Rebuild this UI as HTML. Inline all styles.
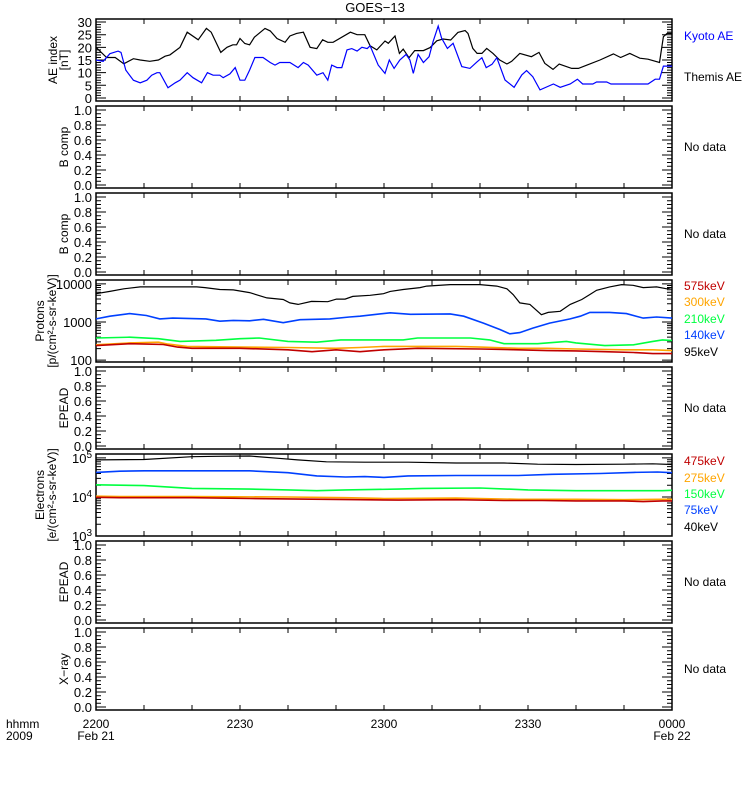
<!DOCTYPE html>
<html><head><meta charset="utf-8"><style>
html,body{margin:0;padding:0;background:#fff;}
svg{display:block;font-family:"Liberation Sans",sans-serif;}
</style></head><body>
<svg id="chart" width="750" height="800" viewBox="0 0 750 800" xmlns="http://www.w3.org/2000/svg">
<text x="375" y="12" text-anchor="middle" font-size="13">GOES−13</text>
</svg>
<script>
// ---- data (time in minutes since 2200) ----
const xTickLabels = ["2200","2230","2300","2330","0000"];
const xDateLabels = ["Feb 21","","","","Feb 22"];
const aeThemisT = [0,2.2,4,5.8,7.8,9.2,11.2,13,14.4,15.4,17.5,19,21.3,23,24,26,27.3,28.5,29.3,30,31,32,33,35.2,36.3,37.7,39.4,40.4,41.8,43.2,44.6,46,47.2,48.3,49.4,53,54.4,56,57.1,58.5,60.2,60.9,62.3,63.2,64,65.2,66.4,68.2,69.6,71,72.3,73.9,75.4,76.9,77.5,78.5,79.4,80.4,81.4,82.7,84.1,85.6,86.6,88.3,90.7,92.3,93.5,95.2,96.5,99.1,100.5,102.3,105,107.8,109.3,111.2,113.3,115,117.4,118.2,119,120];
const aeThemisV = [20,16,16,13.5,15.5,15,14.5,15,16.5,17,20,26,23,27.5,26,18,20,21,21,23.5,21.5,21,24,27.5,26.5,23.5,22,24.5,25.5,26,20,19.5,23,22,22,26,25,25,20.6,19,22.5,21.6,24.5,17.6,19.3,15.9,18.7,18.7,19.9,22.6,23.3,22.9,25.9,26.6,25.5,19.6,17.6,17.6,19.6,17.6,15,13.4,14.5,17.6,16.3,18,13.7,11.3,13.4,11.7,11.7,13,15,17.4,16,17.6,15.7,15.3,14,24.2,25.5,25.5];
const aeKyotoT = [0,1.5,2.9,4.6,5.2,6.2,7.8,9.2,10.6,11.6,12.7,13.3,15,16.5,17.5,19,20.2,22,23.2,24.4,25.8,26.5,27.9,29,30,31,32,33.1,34.8,36.3,37.3,38.3,40.4,42.1,43.2,44.2,46,47.3,48.3,49.1,50.2,51.2,52.3,53.3,54.4,55.4,56.5,57.1,58.8,60.2,61.1,62.1,63.3,64.6,65.4,66.1,67.1,68.2,69.4,70.2,71.3,72,73.2,74.4,76.2,77.9,79.4,80.4,81.3,82.5,83.5,85.2,87.1,88.7,89.7,91,92.5,95.3,96.7,98.8,100.3,101.4,103.5,104.3,106.4,107.3,115,116.5,117.4,118.2,120];
const aeKyotoV = [15,14.5,17.5,18.5,18,11,7,6,7,9,10,10,4,6,7,10,8,6,10,9,9,8,9.5,12,7,7,11,16,16,14,13,14,14,12,14,13,9,10,7,13,12,12,19,19.5,18.5,20,19.5,20.6,13,9.7,15,11.7,15,17.2,15,9.7,17.2,14,16.3,22.2,28.4,23.6,19.6,21.6,12.4,11.7,14.3,15.9,12,13.3,15.9,7.1,4.2,9.1,10.8,8.4,3.2,5.5,4.2,5.5,7.4,5.5,5.5,6.3,6.3,5.5,5.5,7.4,7.4,12.6,12.6];
// protons (log10 flux)
const pBlackT = [0,2.9,5.8,9.2,21,22.7,25.8,28.6,32,35.6,39,40.4,42.1,44.9,48.3,50.1,51.9,53.5,57.1,59.9,61.3,64,67.5,68.9,73.8,80,83.5,85.6,86.9,88.3,90.4,92.8,94.2,96.7,98.8,101.2,102.9,104.3,107,109.5,111.9,114,116.8,118.9,120];
const pBlackV = [3.74,3.8,3.87,3.92,3.92,3.9,3.85,3.84,3.77,3.63,3.59,3.5,3.46,3.54,3.53,3.6,3.6,3.67,3.7,3.74,3.8,3.85,3.9,3.94,3.98,3.98,3.94,3.87,3.72,3.5,3.46,3.19,3.25,3.28,3.46,3.59,3.72,3.83,3.92,3.98,3.96,3.9,3.92,3.87,3.9];
const pBlueT = [0,2.9,7,10.5,13.3,16,22.9,25.8,28.6,32,34.9,39,42.5,48.7,52.8,55,61.3,65.5,73.8,76.6,80.7,84.2,86.2,88.3,91,94.5,98.8,100.9,102.9,107,110.5,114,116.8,120];
const pBlueV = [3.08,3.15,3.22,3.17,3.08,3.1,3.08,3.02,3.04,3.03,3.07,2.98,3.06,3.08,3.13,3.15,3.24,3.2,3.21,3.15,2.97,2.8,2.69,2.72,2.84,2.97,3.08,3.15,3.25,3.25,3.22,3.1,3.13,3.1];
const pGreenT = [0,7,13,17.5,25,30,34,40,46,51,64,67,78,82,85,92,98,100,106,112,116,118,120];
const pGreenV = [2.58,2.6,2.56,2.49,2.52,2.56,2.58,2.49,2.47,2.53,2.53,2.58,2.58,2.53,2.43,2.43,2.49,2.45,2.38,2.4,2.49,2.53,2.51];
const pOrangeT = [0,7,13,15,19,30,40,50,55,60,75,80,88,94,100,110,116,120];
const pOrangeV = [2.40,2.45,2.47,2.42,2.36,2.34,2.33,2.31,2.33,2.36,2.36,2.34,2.31,2.31,2.29,2.27,2.27,2.25];
const pRedT = [0,7,14,17,20,30,40,45,50,55,60,67,80,88,94,100,106,112,116,120];
const pRedV = [2.38,2.43,2.41,2.34,2.31,2.31,2.27,2.22,2.27,2.22,2.27,2.31,2.29,2.27,2.25,2.24,2.22,2.2,2.17,2.17];
// electrons (log10 flux)
const eBlackT = [0,10,20,25,32,38,42,48,56,65,75,85,92,100,110,116,120];
const eBlackV = [4.95,4.96,5.03,5.04,5.05,4.99,4.95,4.9,4.89,4.89,4.87,4.87,4.84,4.83,4.84,4.85,4.83];
const eBlueT = [0,5,10,25,32,40,46,52,56,60,65,75,88,95,105,112,117,120];
const eBlueV = [4.63,4.66,4.67,4.67,4.67,4.62,4.54,4.51,4.52,4.5,4.54,4.55,4.55,4.58,4.6,4.63,4.64,4.62];
const eGreenT = [0,5,10,20,32,40,46,52,63,68,80,90,100,110,118,120];
const eGreenV = [4.31,4.3,4.29,4.22,4.2,4.18,4.16,4.18,4.2,4.22,4.23,4.18,4.16,4.16,4.16,4.17];
const eOrangeT = [0,5,20,40,52,60,75,88,100,110,118,120];
const eOrangeV = [4.02,4.01,4.01,4.0,3.98,3.96,3.97,3.94,3.94,3.93,3.94,3.94];
const eRedT = [0,5,20,32,40,55,63,75,85,93,100,110,114,118,120];
const eRedV = [3.99,3.98,3.98,3.96,3.95,3.93,3.92,3.93,3.91,3.91,3.9,3.9,3.88,3.9,3.9];

// ---- layout ----
const svg = document.getElementById('chart');
const NS = 'http://www.w3.org/2000/svg';
const X0 = 96, X1 = 672;
const xs = t => X0 + (X1 - X0) * t / 120;
function mk(tag, attrs, parent) {
  const e = document.createElementNS(NS, tag);
  for (const k in attrs) e.setAttribute(k, attrs[k]);
  (parent || svg).appendChild(e);
  return e;
}
const panels = [
  {top:19, name:'ae-panel', min:-1.2, max:31.2, type:'ae', title:['AE index','[nT]']},
  {top:106, name:'bcomp-panel-1', min:-0.04, max:1.053, type:'unit', title:['B comp'], nodata:true},
  {top:193, name:'bcomp-panel-2', min:-0.04, max:1.053, type:'unit', title:['B comp'], nodata:true},
  {top:280, name:'protons-panel', min:1.95, max:4.1, type:'plog', title:['Protons','[p/(cm²-s-sr-keV)]']},
  {top:367, name:'epead-panel-1', min:-0.04, max:1.053, type:'unit', title:['EPEAD'], nodata:true},
  {top:454, name:'electrons-panel', min:3.0, max:5.1, type:'elog', title:['Electrons','[e/(cm²-s-sr-keV)]']},
  {top:541, name:'epead-panel-2', min:-0.04, max:1.053, type:'unit', title:['EPEAD'], nodata:true},
  {top:628, name:'xray-panel', min:-0.04, max:1.053, type:'unit', title:['X−ray'], nodata:true}
];
const H = 82;
panels.forEach(p => {
  const g = mk('g', {});
  
  
  const bot = p.top + H;
  const ys = v => bot - (v - p.min) / (p.max - p.min) * H;
  p.ys = ys; p.g = g;
  const fr = mk('rect', {x:X0, y:p.top, width:X1-X0, height:H, fill:'none', stroke:'#000', 'stroke-width':1.5}, g);
  
  
  let d = '';
  for (let t = 0; t <= 120; t += 10) {
    const x = xs(t);
    d += `M${x},${bot}v-5M${x},${p.top}v5`;
  }
  const ytick = (v, len) => { const y = ys(v); d += `M${X0},${y}h${len}M${X1},${y}h-${len}`; };
  const labels = [];
  if (p.type === 'ae') {
    for (let v = 0; v <= 30; v++) ytick(v, v % 5 === 0 ? 10 : 5);
    for (let v = 0; v <= 30; v += 5) labels.push([v, String(v)]);
  } else if (p.type === 'unit') {
    for (let i = 0; i <= 20; i++) ytick(i / 20, i % 4 === 0 ? 10 : 5);
    for (let i = 0; i <= 5; i++) labels.push([i / 5, (i / 5).toFixed(1)]);
  } else {
    const lo = p.type === 'plog' ? 2 : 3, hi = p.type === 'plog' ? 4 : 5;
    for (let e = lo - 1; e <= hi; e++) {
      for (let m = 1; m <= 9; m++) {
        const v = e + Math.log10(m);
        if (v < p.min || v > p.max) continue;
        ytick(v, m === 1 ? 10 : 5);
      }
    }
    for (let e = lo; e <= hi; e++) labels.push([e, p.type === 'plog' ? String(Math.pow(10, e)) : 'sup' + e]);
  }
  const tk = mk('path', {d:d, stroke:'#000', 'stroke-width':1, fill:'none'}, g);
  
  
  labels.forEach(([v, s]) => {
    const t = mk('text', {x:92, y:ys(v) + 5, 'text-anchor':'end', 'font-size':13}, g);
    
    
    if (s.startsWith('sup')) {
      t.textContent = '10';
      const sp = mk('tspan', {dy:-5, 'font-size':10}, t);
      sp.textContent = s.slice(3);
    } else t.textContent = s;
  });
  const cy = p.top + H / 2;
  const tx = p.title.length === 2 ? [57, 68] : [68];
  if (p.type === 'plog' || p.type === 'elog') { tx[0] = 44; tx[1] = 56; }
  p.title.forEach((s, i) => {
    const t = mk('text', {x:0, y:0, 'text-anchor':'middle', 'font-size':12, transform:`translate(${tx[i]},${cy}) rotate(-90)`}, g);
    
    
    t.textContent = s;
  });
  if (p.nodata) {
    const t = mk('text', {x:684, y:cy + 4, 'font-size':12}, g);
    
    
    t.textContent = 'No data';
  }
});
function line(p, T, V, color, w, name) {
  const pts = T.map((t, i) => xs(t).toFixed(1) + ',' + p.ys(Math.min(Math.max(V[i], p.min), p.max)).toFixed(1)).join(' ');
  const l = mk('polyline', {points:pts, fill:'none', stroke:color, 'stroke-width':w, 'stroke-linejoin':'miter'}, p.g);
  
  
}
function legend(p, y, text, color) {
  const t = mk('text', {x:684, y:y, 'font-size':12, fill:color}, p.g);
  
  
  t.textContent = text;
}
const RED = '#c00000', ORG = '#ffa500', GRN = '#00ff40', BLU = '#0040ff';
const ae = panels[0], pr = panels[3], el = panels[5];
line(ae, aeThemisT, aeThemisV, '#000', 1.2, 'themis-ae-line');
line(ae, aeKyotoT, aeKyotoV, '#0000ff', 1.2, 'kyoto-ae-line');
legend(ae, 40, 'Kyoto AE', '#0000ff');
legend(ae, 81, 'Themis AE', '#000');
line(pr, pBlackT, pBlackV, '#000', 1.2, 'proton-95kev-line');
line(pr, pBlueT, pBlueV, BLU, 1.6, 'proton-140kev-line');
line(pr, pGreenT, pGreenV, GRN, 1.6, 'proton-210kev-line');
line(pr, pOrangeT, pOrangeV, ORG, 1.6, 'proton-300kev-line');
line(pr, pRedT, pRedV, RED, 1.6, 'proton-575kev-line');
legend(pr, 290, '575keV', RED); legend(pr, 306, '300keV', ORG); legend(pr, 323, '210keV', GRN);
legend(pr, 339, '140keV', BLU); legend(pr, 356, '95keV', '#000');
line(el, eBlackT, eBlackV, '#000', 1.2, 'electron-40kev-line');
line(el, eBlueT, eBlueV, BLU, 1.6, 'electron-75kev-line');
line(el, eGreenT, eGreenV, GRN, 1.6, 'electron-150kev-line');
line(el, eOrangeT, eOrangeV, ORG, 1.6, 'electron-275kev-line');
line(el, eRedT, eRedV, RED, 1.6, 'electron-475kev-line');
legend(el, 465, '475keV', RED); legend(el, 482, '275keV', ORG); legend(el, 498, '150keV', GRN);
legend(el, 514, '75keV', BLU); legend(el, 531, '40keV', '#000');
xTickLabels.forEach((s, i) => {
  const x = X0 + i * (X1 - X0) / 4;
  const t = mk('text', {x:x, y:728, 'text-anchor':'middle', 'font-size':12});
  
  
  t.textContent = s;
  if (xDateLabels[i]) {
    const d = mk('text', {x:x, y:740, 'text-anchor':'middle', 'font-size':12});
    
    
    d.textContent = xDateLabels[i];
  }
});
const h1 = mk('text', {x:6, y:728, 'font-size':12});


h1.textContent = 'hhmm';
const h2 = mk('text', {x:6, y:740, 'font-size':12});


h2.textContent = '2009';
</script>
</body></html>
